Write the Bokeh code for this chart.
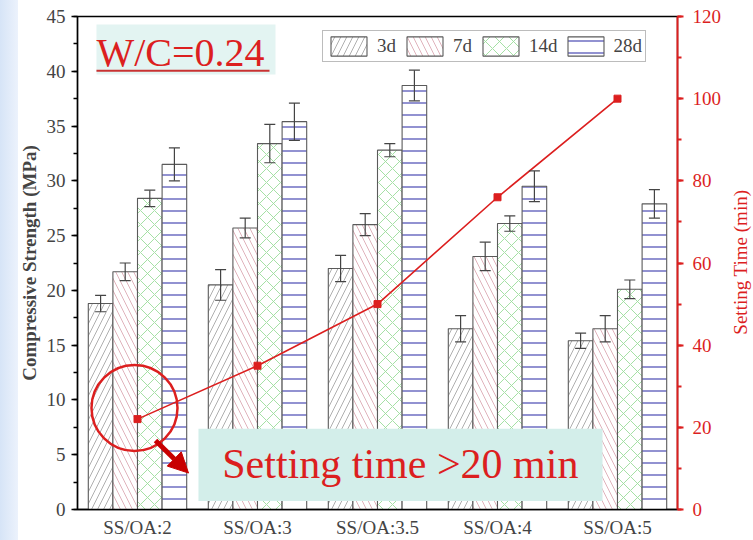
import math

from bokeh.plotting import figure
from bokeh.models import (ColumnDataSource, FactorRange, Range1d, LinearAxis,
                          SingleIntervalTicker, Whisker, TeeHead, Label,
                          Arrow, NormalHead, Div)
from bokeh.layouts import row
from bokeh.transform import dodge
from bokeh.embed import file_html
from bokeh.resources import INLINE

# ---- data -------------------------------------------------------------
ratios = ["SS/OA:2", "SS/OA:3", "SS/OA:3.5", "SS/OA:4", "SS/OA:5"]
ages = ["3d", "7d", "14d", "28d"]

strength_3d = [18.8, 20.5, 22.0, 16.5, 15.4]
strength_7d = [21.7, 25.7, 26.0, 23.1, 16.5]
strength_14d = [28.4, 33.4, 32.8, 26.1, 20.1]
strength_28d = [31.5, 35.4, 38.7, 29.5, 27.9]

error_3d = [0.75, 1.4, 1.2, 1.2, 0.7]
error_7d = [0.8, 0.9, 1.0, 1.3, 1.2]
error_14d = [0.75, 1.75, 0.6, 0.7, 0.85]
error_28d = [1.5, 1.7, 1.4, 1.4, 1.3]

setting_time = [22, 35, 50, 76, 100]   # min

# ---- styling -----------------------------------------------------------
FONT = "Liberation Serif"
RED = "#dc1f1f"

series = [
    ("3d", strength_3d, error_3d, "/", "#a6a6a6", 12, 0.9),
    ("7d", strength_7d, error_7d, "\\", "#ddaab4", 12, 0.9),
    ("14d", strength_14d, error_14d, "x", "#9bdc9b", 14, 0.9),
    ("28d", strength_28d, error_28d, "-", "#5656b8", 12, 1.3),
]
offsets = [-0.3075, -0.1025, 0.1025, 0.3075]
bar_width = 0.205

data = {"ratio": ratios, "time": setting_time}
for name, vals, errs, *_ in series:
    data["v" + name] = vals
    data["hi" + name] = [v + e for v, e in zip(vals, errs)]
    data["lo" + name] = [v - e for v, e in zip(vals, errs)]
src = ColumnDataSource(data)

p = figure(
    x_range=FactorRange(*ratios),
    y_range=Range1d(0, 45),
    width=731, height=540,
    min_border_left=77, min_border_right=54,
    min_border_top=16, min_border_bottom=31,
    output_backend="svg", toolbar_location=None,
    background_fill_color="white", border_fill_alpha=0,
)
# page strip on the far left, white everywhere else
p.styles = {"background": "linear-gradient(to right, #d6e4f7 0px, #ecf2fc 18px, "
                          "#ffffff 18px, #ffffff 100%)"}
p.extra_y_ranges = {"time": Range1d(0, 120)}
p.xgrid.visible = False
p.ygrid.visible = False
p.outline_line_color = "black"
p.outline_line_width = 1.3

# ---- bars + error bars ----------------------------------------------
for (name, vals, errs, hatch, hcol, hscale, hweight), off in zip(series, offsets):
    p.vbar(x=dodge("ratio", off, range=p.x_range), top="v" + name,
           width=bar_width, source=src,
           fill_color="white", line_color="#5a5a5a", line_width=1.1,
           hatch_pattern=hatch, hatch_color=hcol, hatch_scale=hscale,
           hatch_weight=hweight, legend_label=name)
    wh = Whisker(source=src, base=dodge("ratio", off, range=p.x_range),
                 upper="hi" + name, lower="lo" + name,
                 line_color="#444444", line_width=1.2, level="overlay",
                 upper_head=TeeHead(size=11, line_color="#444444", line_width=1.2),
                 lower_head=TeeHead(size=11, line_color="#444444", line_width=1.2))
    p.add_layout(wh)

# ---- setting time line (right axis) -------------------------------------
p.line(x="ratio", y="time", source=src, y_range_name="time",
       line_color=RED, line_width=1.6)
p.scatter(x="ratio", y="time", source=src, y_range_name="time",
          marker="square", size=7, fill_color=RED, line_color=RED)

# ---- axes ---------------------------------------------------------------
ya = p.yaxis[0]
ya.ticker = SingleIntervalTicker(interval=5, num_minor_ticks=2)
ya.axis_label = "Compressive Strength (MPa)"
ya.axis_label_text_font = FONT
ya.axis_label_text_font_style = "bold"
ya.axis_label_text_font_size = "19px"
ya.axis_label_standoff = 4
ya.major_label_text_font = FONT
ya.major_label_text_font_size = "19px"
ya.major_label_standoff = 6
ya.axis_line_width = 1.5
ya.major_tick_line_width = 1.5
ya.minor_tick_line_width = 1.5
ya.major_tick_in = 0
ya.major_tick_out = 6
ya.minor_tick_in = 0
ya.minor_tick_out = 4

xa = p.xaxis[0]
xa.major_label_text_font = FONT
xa.major_label_text_font_size = "19px"
xa.major_label_standoff = 7
xa.major_tick_in = 0
xa.major_tick_out = 0
xa.axis_line_width = 1.5

ra = LinearAxis(y_range_name="time",
                ticker=SingleIntervalTicker(interval=20, num_minor_ticks=2))
ra.major_label_text_font = FONT
ra.major_label_text_font_size = "19px"
ra.major_label_text_color = RED
ra.major_label_standoff = 9
ra.axis_line_color = RED
ra.axis_line_width = 2
ra.major_tick_line_color = RED
ra.minor_tick_line_color = RED
ra.major_tick_line_width = 2
ra.minor_tick_line_width = 2
ra.major_tick_in = 0
ra.major_tick_out = 6
ra.minor_tick_in = 0
ra.minor_tick_out = 4
p.add_layout(ra, "right")

# ---- legend -------------------------------------------------------------
lg = p.legend[0]
lg.orientation = "horizontal"
lg.location = (245, 447)
lg.label_text_font = FONT
lg.label_text_font_size = "19px"
lg.glyph_width = 45
lg.glyph_height = 24
lg.label_standoff = 6
lg.spacing = 5
lg.padding = 3
lg.margin = 0
lg.border_line_color = "#7a7a7a"
lg.border_line_width = 1.5
lg.background_fill_color = "white"
lg.background_fill_alpha = 1

# ---- annotations (x in category units: 0 = left frame edge, 5 = right) ---
# W/C note in the top-left corner
p.quad(left=[0.158], right=[1.65], top=[44.27], bottom=[39.7],
       fill_color="#e3f4f2", line_color=None)
p.add_layout(Label(x=0.158, y=41.75, text="W/C=0.24",
                   text_font=FONT, text_font_size="40px", text_color=RED,
                   text_baseline="middle", text_align="left"))
p.segment(x0=[0.158], y0=[40.05], x1=[1.6], y1=[40.05],
          line_color="#c83232", line_width=2)

# setting-time callout at the bottom
p.quad(left=[1.008], right=[4.375], top=[7.36], bottom=[0.78],
       fill_color="#d3eeea", line_color=None)
p.add_layout(Label(x=1.206, y=4.15, text="Setting time >20 min",
                   text_font=FONT, text_font_size="42px", text_color=RED,
                   text_baseline="middle", text_align="left"))

p.scatter(x=[0.475], y=[9.27], marker="circle", size=86,
          fill_color=None, line_color=RED, line_width=2.5)
p.add_layout(Arrow(x_start=0.65, y_start=6.3, x_end=0.925, y_end=3.33,
                   line_color="#c80000", line_width=5,
                   end=NormalHead(size=20, fill_color="#c80000",
                                  line_color="#c80000")))

# right-axis title, reading upwards like the left one
right_title = Div(
    text=("<div style=\"height:540px;width:18px;display:flex;align-items:center;"
          "justify-content:center;padding-bottom:16px;box-sizing:border-box;\">"
          "<span style=\"writing-mode:vertical-rl;transform:rotate(180deg);"
          "white-space:nowrap;font-family:'Liberation Serif';font-size:19px;"
          "line-height:19px;color:#dc1f1f;\">Setting Time (min)</span></div>"),
    width=18, height=540, styles={"margin": "0", "padding": "0"})

layout = row(p, right_title)

open("out.html", "w").write(file_html(layout, INLINE))
